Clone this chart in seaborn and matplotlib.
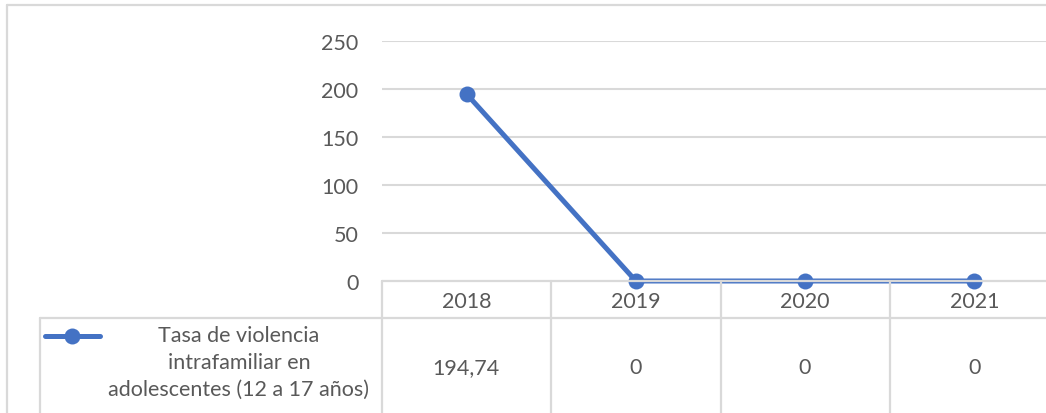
import matplotlib
matplotlib.use("Agg")
import matplotlib.pyplot as plt
import seaborn as sns
import pandas as pd
from matplotlib.lines import Line2D

# data
years = ["2018", "2019", "2020", "2021"]
tasa = [194.74, 0, 0, 0]
serie = "Tasa de violencia\nintrafamiliar en\nadolescentes (12 a 17 años)"

sns.set_theme(style="white")
plt.rcParams["font.family"] = ["Lato", "DejaVu Sans"]

W, H = 1046, 414
fig = plt.figure(figsize=(W / 100, H / 100), dpi=100)

blue = "#4472C4"
grid = "#d9d9d9"
txt = "#595959"
fs = 15.5


def fx(px):
    return px / W


def fy(py):
    return 1 - py / H


# plot area: x 382..1059 px, y 42 (250) .. 282 (0)
ax = fig.add_axes([fx(382), fy(282), fx(1059) - fx(382), fy(42) - fy(282)])
df = pd.DataFrame({"year": years, "tasa": tasa})
sns.lineplot(data=df, x="year", y="tasa", ax=ax, color=blue, linewidth=3.6,
             marker="o", markersize=11.5, markeredgewidth=0, clip_on=False)
ax.set_xlim(-0.5, 3.5)
ax.set_ylim(0, 250)
ax.set_yticks(range(0, 251, 50))
for y in range(50, 251, 50):
    ax.axhline(y, color=grid, lw=1.5, zorder=0)
for s in ax.spines.values():
    s.set_visible(False)
ax.set_xlabel("")
ax.set_ylabel("")
ax.tick_params(axis="y", length=0, pad=17, labelsize=fs, labelcolor=txt)
ax.tick_params(axis="x", length=0, pad=7, labelsize=fs, labelcolor=txt)

# data table lines
def hline(y, x0, x1):
    fig.add_artist(Line2D([fx(x0), fx(x1)], [fy(y), fy(y)], color=grid, lw=1.6))


def vline(x, y0, y1):
    fig.add_artist(Line2D([fx(x), fx(x)], [fy(y0), fy(y1)], color=grid, lw=1.6))


hline(6, 7, W)          # outer chart border
vline(7, 6, H)
hline(282, 382, W)      # table top / zero line
hline(319, 40, W)
vline(40, 319, H)
for x in [382, 551, 721, 890]:
    vline(x, 282, H)

# legend key inside table
fig.add_artist(Line2D([fx(45), fx(100)], [fy(337), fy(337)], color=blue, lw=3.6,
                      solid_capstyle="round"))
fig.add_artist(Line2D([fx(72)], [fy(337)], color=blue, marker="o",
                      markersize=11.5, markeredgewidth=0, lw=0))
fig.text(fx(239), fy(363), serie, ha="center", va="center", fontsize=fs,
         color=txt, linespacing=1.42)

# values row
centers = [466, 636, 805, 975]
for c, v in zip(centers, tasa):
    lab = f"{v:.2f}".replace(".", ",") if v % 1 else f"{v:g}"
    fig.text(fx(c), fy(368), lab, ha="center", va="center", fontsize=fs, color=txt)

fig.savefig("out.png", dpi=100)
